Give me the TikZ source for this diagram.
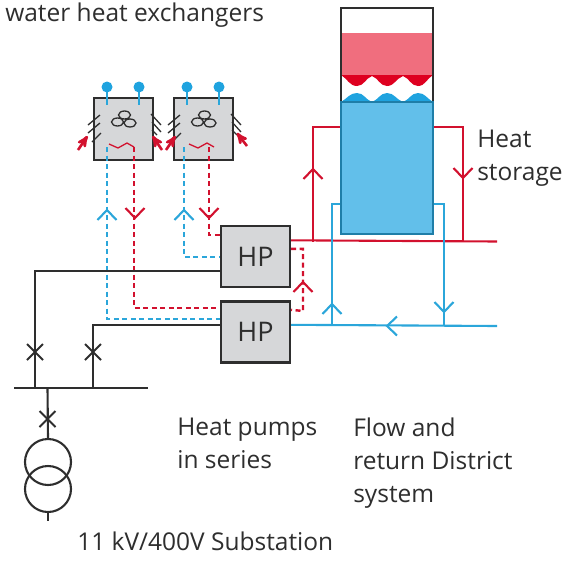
\documentclass[tikz,border=0pt]{standalone}
\usepackage{fontspec}
\setmainfont{Open Sans}
\usetikzlibrary{arrows,positioning,calc}
\definecolor{hotline}{HTML}{D2112E}
\definecolor{coldline}{HTML}{2BA6DA}
\definecolor{darkline}{HTML}{2E2E2E}
\definecolor{boxgray}{HTML}{D6D7D9}
\definecolor{hotfill}{HTML}{F06E7E}
\definecolor{hotwave}{HTML}{DE0020}
\definecolor{coldfill}{HTML}{62BFEA}
\definecolor{coldwave}{HTML}{1FA3DF}
\definecolor{coldedge}{HTML}{1F7EA8}
\begin{document}
\begin{tikzpicture}[x=1pt, y=-1pt, semithick, node distance=80pt]
\tikzstyle{every node}=[text=darkline,font=\fontsize{24.5}{33}\selectfont]
\tikzstyle{unit}=[draw=darkline,fill=boxgray,line width=2.4pt,inner sep=0pt,minimum width=59pt,minimum height=62pt]
\tikzstyle{hp}=[unit,minimum width=69pt,minimum height=61pt,font=\fontsize{27}{29}\selectfont]
\tikzstyle{label}=[anchor=west,inner sep=0pt,align=left]
\tikzstyle{hot}=[draw=hotline,line width=2.1pt]
\tikzstyle{cold}=[draw=coldline,line width=2.1pt]
\tikzstyle{hotdash}=[hot,line width=2.4pt,dash pattern=on 5pt off 3.5pt]
\tikzstyle{colddash}=[cold,line width=2.4pt,dash pattern=on 5pt off 3.5pt]
\tikzstyle{wire}=[draw=darkline,line width=2.1pt]
\tikzstyle{airflow}=[->,>=stealth',draw=hotline,fill=hotline,line width=2.6pt]
\tikzset{
  chev/.pic={\draw (-9.5,10) -- (0,0) -- (9.5,10);},
  breaker/.pic={\draw (-8,-8) -- (8,8) (-8,8) -- (8,-8);},
  fan/.pic={\draw[line width=1.3pt,draw=darkline] (1,-14) ellipse (6 and 4) (-6,-7) ellipse (6 and 4) (6.5,-6) ellipse (6 and 4);
    \draw[hot,line width=1.3pt] (-14.5,15) -- (-5.5,19) -- (3.5,14) -- (10.5,18);
    \draw[line width=1.3pt,draw=darkline] (-35.5,-4) -- (-23.5,-14) (-35.5,4) -- (-23.5,-6) (-31.5,13) -- (-22.5,4)
      (27.5,-15) -- (37.5,-4) (28.5,-7) -- (37.5,3) (28.5,1) -- (33.5,6);},
  pin/.pic={\draw[coldline,line width=2.1pt] (0,0) -- (0,18); \fill[coldwave] (0,0) circle (5.5);}
}

% storage tank
\fill[hotfill] (341,33) rectangle (433,75);
\fill[hotwave] (341,75) to[out=-30,in=180] (357,86) to[out=0,in=200] (372,76) to[out=-20,in=180] (387,86)
  to[out=0,in=200] (403,76) to[out=-20,in=180] (418,86) to[out=0,in=210] (433,75) -- cycle;
\fill[coldwave] (341,102) to[out=30,in=180] (357,93) to[out=0,in=160] (372,102) to[out=20,in=180] (387,93)
  to[out=0,in=160] (403,102) to[out=20,in=180] (418,93) to[out=0,in=150] (433,102) -- cycle;
\node[draw=darkline,line width=2.1pt,inner sep=0pt,minimum width=92pt,minimum height=226pt] (Tank) at (387,121) {};
\node[draw=coldedge,fill=coldfill,line width=2.1pt,inner sep=0pt,minimum width=92pt,minimum height=132pt] (Cold) at (387,168) {};

% units
\node[unit] (EX1) at (123.5,129) {};
\node[unit] (EX2) [right of=EX1] {};
\node[hp] (HP1) at (255.5,256.5) {HP};
\node[hp] (HP2) [below of=HP1, node distance=75.5pt] {HP};

% fan, pins and air
\pic at (EX1) {fan};
\pic at (EX2) {fan};
\pic at ($(EX1)+(-16.5,-42)$) {pin};
\pic at ($(EX1)+(15.5,-42)$) {pin};
\pic at ($(EX2)+(-16.5,-42)$) {pin};
\pic at ($(EX2)+(15.5,-42)$) {pin};
\draw[airflow] ($(EX1)+(-45.5,21)$) -- ($(EX1)+(-36,7)$);
\draw[airflow] ($(EX1)+(38.5,21)$) -- ($(EX1)+(29,7)$);
\draw[airflow] ($(EX2)+(-37.5,21)$) -- ($(EX2)+(-28,7)$);
\draw[airflow] ($(EX2)+(43.5,17)$) -- ($(EX2)+(33.5,4)$);

% ports
\coordinate (RedOut) at ($(HP1.north east)+(0,15.5)$);
\coordinate (RedLow) at ($(HP1.north east)+(0,24)$);
\coordinate (BlueOut) at ($(HP2.north east)+(0,24.5)$);
\coordinate (RedLow2) at ($(HP2.north east)+(0,9.5)$);
\coordinate (FlowEnd) at (497,241.5);
\coordinate (ReturnEnd) at (497,326);
\coordinate (BusL) at (14,388);
\coordinate (BusR) at (148,388);

% flow and return
\draw[hot] (RedOut) -- (FlowEnd);
\draw[cold] (BlueOut) -- (ReturnEnd);
\draw[hot] ($(Cold.north west)+(0,26)$) -| (313,241.5);
\draw[hot] ($(Cold.north east)+(0,26)$) -| (463,241.5);
\draw[cold] ($(Cold.north west)+(0,103)$) -| (332,326);
\draw[cold] ($(Cold.north east)+(0,103)$) -| (444,326);
\draw[hotdash] (RedLow) -| (303,311) -- (RedLow2);

% dashed circuits
\draw[colddash] ($(EX1.south)+(-16.5,-14)$) |- ($(HP2.north west)+(0,18.5)$);
\draw[hotdash] ($(EX1.south)+(10.5,-14)$) |- ($(HP2.north west)+(0,7.5)$);
\draw[colddash] ($(EX2.south)+(-19.5,-14)$) |- ($(HP1.north west)+(0,32)$);
\draw[hotdash] ($(EX2.south)+(5.5,-14)$) |- ($(HP1.north west)+(0,10)$);

% flow marks
\pic[draw=hotline,line width=2.1pt] at (313,169) {chev};
\pic[draw=hotline,line width=2.1pt,rotate=180] at (463,178) {chev};
\pic[draw=coldline,line width=2.1pt] at (332,304) {chev};
\pic[draw=coldline,line width=2.1pt,rotate=180] at (444,312) {chev};
\pic[draw=coldline,line width=2.1pt,rotate=90] at (387,326) {chev};
\pic[draw=hotline,line width=2.1pt] at (303,282) {chev};
\pic[draw=coldline,line width=2.1pt] at (107,210) {chev};
\pic[draw=hotline,line width=2.1pt,rotate=180] at (135,218) {chev};
\pic[draw=coldline,line width=2.1pt] at (184,210) {chev};
\pic[draw=hotline,line width=2.1pt,rotate=180] at (209,218) {chev};

% substation
\draw[wire] (BusL) -- (BusR);
\draw[wire] ($(HP1.north west)+(0,46)$) -| (35,388);
\draw[wire] ($(HP2.north west)+(0,24.5)$) -| (93,388);
\node[draw=darkline,line width=2.1pt,circle,inner sep=0pt,minimum size=46pt] (T1) at (48,462) {};
\node[draw=darkline,line width=2.1pt,circle,inner sep=0pt,minimum size=46pt] (T2) [below of=T1, node distance=27pt] {};
\draw[wire] (47.5,388) -- (T1.north);
\draw[wire] (T2.south) -- ++(0,8);
\pic[draw=darkline,line width=2.1pt] at (35,352) {breaker};
\pic[draw=darkline,line width=2.1pt] at (93,352) {breaker};
\pic[draw=darkline,line width=2.1pt] at (47.5,419) {breaker};

% labels
\node[label] (LblExch) at (5,15) {water heat exchangers};
\node[label] (LblStore) at (477,158.5) {Heat\\storage};
\node[label] (LblSeries) at (177,443) {Heat pumps\\in series};
\node[label] (LblFlow) at (353,463) {Flow and\\return District\\system};
\node[label] (LblSub) at (77,541) {11 kV/400V Substation};

\useasboundingbox (0,0) rectangle (578,560);
\end{tikzpicture}
\end{document}
